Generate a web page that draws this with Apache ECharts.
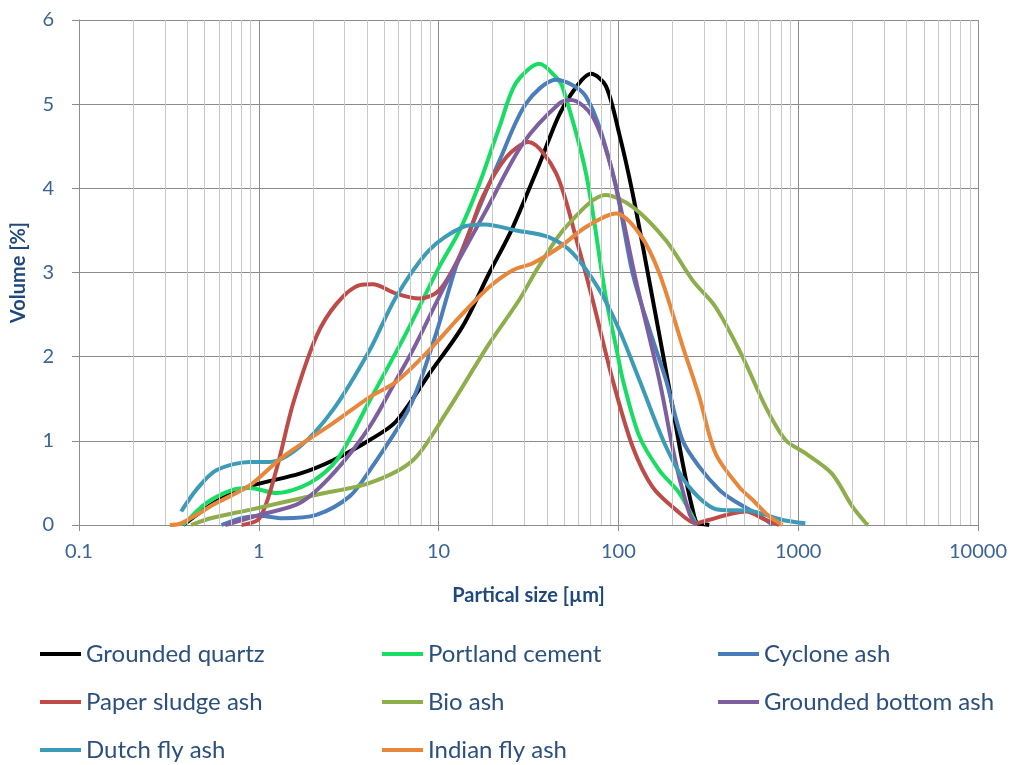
<!DOCTYPE html>
<html>
<head>
<meta charset="utf-8">
<script src="https://cdn.jsdelivr.net/npm/echarts@6/dist/echarts.min.js"></script>
<style>
html,body{margin:0;padding:0;background:#fff;}
#c{width:1014px;height:765px;}
</style>
</head>
<body>
<div id="c"></div>
<script>
// Series data: [particle size (µm), volume (%)]
const seriesNames = ["Grounded quartz","Portland cement","Cyclone ash","Paper sludge ash","Bio ash","Grounded bottom ash","Dutch fly ash","Indian fly ash"];

const groundedQuartz = [[0.38,0],[0.58,0.28],[0.89,0.46],[1.69,0.61],[2.59,0.77],[4.14,1.01],[5.8,1.23],[8.9,1.8],[13.6,2.36],[19.2,3.0],[25.4,3.5],[36.4,4.29],[47,4.88],[60,5.24],[70.5,5.36],[85,5.22],[101,4.65],[120,3.94],[150,2.85],[188,1.72],[228,0.73],[259,0.18],[275,0.02],[300,0.01],[320,0]];
const portlandCement = [[0.38,0],[0.51,0.26],[0.72,0.42],[0.89,0.44],[1.25,0.38],[1.92,0.5],[2.71,0.77],[4.14,1.48],[6.6,2.28],[10.1,3.07],[13.1,3.5],[16.9,4.06],[21.8,4.73],[26.9,5.25],[36.4,5.48],[45,5.32],[49,5.2],[66,4.18],[85,2.71],[97,2.12],[106,1.72],[131,1.05],[169,0.65],[218,0.38],[270,0.02]];
const cycloneAsh = [[0.62,0],[0.8,0.08],[1,0.11],[1.36,0.08],[2.09,0.12],[3.2,0.34],[4.14,0.65],[6.9,1.4],[9.7,2.28],[12.5,3.07],[16.3,3.7],[21.8,4.33],[30.7,5.01],[45,5.29],[66,5.09],[93,4.18],[120,2.99],[150,2.3],[184,1.72],[228,1.0],[282,0.69],[363,0.42],[431,0.3],[600,0.12],[720,0]];
const paperSludgeAsh = [[0.8,0],[1.01,0.08],[1.25,0.65],[1.55,1.44],[2.09,2.24],[2.71,2.63],[3.64,2.85],[4.3,2.86],[5.8,2.75],[7.8,2.69],[10.1,2.79],[13.6,3.27],[17.6,3.9],[23.8,4.37],[31.6,4.55],[45,4.18],[60,3.3],[72,2.67],[93,1.72],[120,0.93],[155,0.45],[209,0.18],[270,0.02],[317,0.06],[420,0.13],[512,0.16],[661,0.06],[783,0]];
const bioAsh = [[0.42,0],[0.54,0.08],[0.89,0.18],[2.1,0.36],[4.14,0.5],[7.2,0.77],[11,1.33],[19.2,2.16],[28,2.67],[36,3.07],[51,3.54],[85,3.92],[120,3.78],[184,3.38],[260,2.9],[347,2.59],[490,2.0],[660,1.4],[850,1.01],[1100,0.85],[1540,0.61],[2000,0.22],[2380,0.02],[2450,0]];
const groundedBottomAsh = [[0.65,0],[1.01,0.12],[1.69,0.26],[2.59,0.61],[4.14,1.17],[5.8,1.72],[7.2,2.08],[11,2.87],[18.4,3.74],[29.4,4.53],[47,5.01],[54.6,5.05],[72,4.85],[93,4.18],[125,2.91],[169,1.72],[209,0.73],[248,0.14],[270,0]];
const dutchFlyAsh = [[0.37,0.16],[0.45,0.42],[0.58,0.65],[0.89,0.75],[1.15,0.75],[1.69,0.93],[2.59,1.37],[4.14,2.08],[5.8,2.71],[8.9,3.27],[13.6,3.54],[18,3.57],[27,3.5],[41,3.42],[55.7,3.23],[78,2.8],[101,2.32],[131,1.72],[184,0.93],[248,0.45],[363,0.18],[534,0.17],[818,0.06],[1096,0.02]];
const indianFlyAsh = [[0.32,0],[0.37,0.02],[0.58,0.26],[0.89,0.47],[1.36,0.81],[2.59,1.21],[4.14,1.52],[5.8,1.7],[8.9,2.08],[13.6,2.51],[19.2,2.83],[26,3.03],[33.4,3.11],[47,3.3],[66,3.54],[97,3.7],[131,3.46],[169,2.99],[228,2.12],[282,1.52],[347,0.85],[470,0.45],[557,0.3],[692,0.1],[818,0]];

const xTickLabels = ["0.1","1","10","100","1000","10000"];
const yTickLabels = ["0","1","2","3","4","5","6"];
const minorGrid = [0.2,0.3,0.4,0.5,0.6,0.7,0.8,0.9,2,3,4,5,6,7,8,9,20,30,40,50,60,70,80,90,200,300,400,500,600,700,800,900,2000,3000,4000,5000,6000,7000,8000,9000];

const allData = [groundedQuartz,portlandCement,cycloneAsh,paperSludgeAsh,bioAsh,groundedBottomAsh,dutchFlyAsh,indianFlyAsh];
const colors = ["#000000","#17DE62","#4A7EBB","#BE4B48","#8DAE4A","#7D5FA0","#3C9CB8","#E8873A"];

const FONT = "Lato, 'Liberation Sans', sans-serif";
const chart = echarts.init(document.getElementById('c'), null, {renderer:'canvas'});

const series = [{
  type:'line', data:[], silent:true, z:1,
  markLine:{silent:true, symbol:'none', animation:false, label:{show:false},
    lineStyle:{color:'#C9C9C9', width:1, type:'solid'},
    data: minorGrid.map(v=>({xAxis:v}))}
}];
seriesNames.forEach((n,i)=>{
  series.push({name:n, type:'line', data:allData[i], smooth:0.3, showSymbol:false, z:3,
    lineStyle:{width:4, color:colors[i]}, itemStyle:{color:colors[i]}});
});

// legend grid positions: column lefts and row tops
const legendCols = [35, 377, 713];
const legendRows = [637, 685, 733];
const legendPos = [[0,0],[1,0],[2,0],[0,1],[1,1],[2,1],[0,2],[1,2]];
const legends = seriesNames.map((n,i)=>({
  orient:'horizontal', icon:'rect', itemWidth:41, itemHeight:4,
  left:legendCols[legendPos[i][0]], top:legendRows[legendPos[i][1]],
  data:[n], selectedMode:false,
  textStyle:{fontFamily:FONT, fontSize:24, color:'#2B4F7E'}
}));

chart.setOption({
  animation:false,
  grid:{left:79, right:36, top:20, bottom:240},
  legend:legends,
  xAxis:{type:'log', logBase:10, min:0.1, max:10000,
    name:'Partical size [µm]', nameLocation:'middle', nameGap:61,
    nameTextStyle:{fontFamily:FONT, fontSize:20, fontWeight:'bold', color:'#1F497D'},
    axisLine:{show:true, lineStyle:{color:'#8C8C8C', width:1}},
    axisTick:{show:true, length:6, lineStyle:{color:'#8C8C8C'}},
    splitLine:{show:true, lineStyle:{color:'#8C8C8C', width:1}},
    axisLabel:{margin:17, fontFamily:FONT, fontSize:20, color:'#3B6396',
      formatter:(v)=>{ const k=Math.round(Math.log10(v))+1; return xTickLabels[k]!==undefined?xTickLabels[k]:String(v);}}
  },
  yAxis:{type:'value', min:0, max:6, interval:1,
    name:'Volume [%]', nameLocation:'middle', nameGap:50, nameRotate:90,
    nameTextStyle:{fontFamily:FONT, fontSize:20, fontWeight:'bold', color:'#1F497D'},
    axisLine:{show:true, lineStyle:{color:'#8C8C8C', width:1}},
    axisTick:{show:true, length:7, lineStyle:{color:'#8C8C8C'}},
    splitLine:{show:true, lineStyle:{color:'#8C8C8C', width:1}},
    axisLabel:{margin:25, fontFamily:FONT, fontSize:20, color:'#3B6396',
      formatter:(v)=>yTickLabels[Math.round(v)]}
  },
  series:series
});
</script>
</body>
</html>
